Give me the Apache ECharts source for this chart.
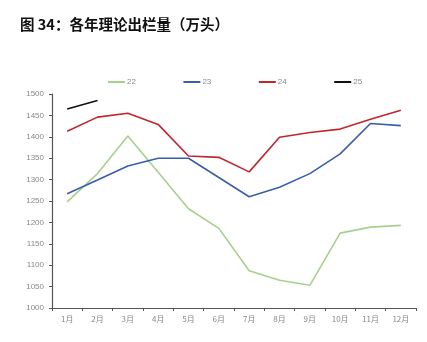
<!DOCTYPE html>
<html><head><meta charset="utf-8">
<script src="https://cdn.jsdelivr.net/npm/echarts@6/dist/echarts.min.js"></script>
<style>html,body{margin:0;padding:0;background:#fff}#c{width:427px;height:342px}</style>
</head><body><div id="c"></div>
<script>
const categories = ['1月','2月','3月','4月','5月','6月','7月','8月','9月','10月','11月','12月'];
const s22 = [1248,1314,1402,1317,1232,1186,1087,1065,1053,1175,1189,1193];
const s23 = [1267,1299,1332,1350,1350,1305,1260,1282,1314,1360,1431,1426];
const s24 = [1413,1446,1455,1429,1355,1352,1318,1399,1410,1418,1441,1462];
const s25 = [1465,1485];
const seriesNames = ['22','23','24','25'];
const yTicks = {min:1000, max:1500, interval:50};

const chart = echarts.init(document.getElementById('c'), null, {renderer:'canvas'});
const colors = ['#a8d08d','#3a5ea8','#c0262d','#111111'];
function mk(name, data, i){
  return {name, type:'line', data, symbol:'none', smooth:false,
    lineStyle:{width:1.6, color:colors[i]}, itemStyle:{color:colors[i]}};
}
chart.setOption({
  animation:false,
  title:{text:'图 34：各年理论出栏量（万头）', left:15, top:12,
    textStyle:{fontSize:14.5, fontWeight:'bold', color:'#111', fontFamily:'"Noto Sans CJK SC", sans-serif'}},
  legend:{top:73, left:103, itemGap:47.5, itemWidth:17, itemHeight:2, icon:'rect',
    data:seriesNames,
    textStyle:{fontSize:8, color:'#888', fontFamily:'"Liberation Sans", sans-serif', padding:[0,0,0,-3]}},
  grid:{left:52, right:11, top:94, bottom:34, containLabel:false},
  xAxis:{type:'category', data:categories, boundaryGap:true,
    axisLine:{lineStyle:{color:'#555', width:1.2}},
    axisTick:{show:true, length:3, lineStyle:{color:'#555'}},
    axisLabel:{fontSize:8, color:'#888', margin:7, fontFamily:'"Noto Sans CJK SC", sans-serif'}},
  yAxis:{type:'value', min:yTicks.min, max:yTicks.max, interval:yTicks.interval,
    axisLine:{show:true, lineStyle:{color:'#555', width:1.2}},
    axisTick:{show:true, length:3, lineStyle:{color:'#555'}},
    splitLine:{show:false},
    axisLabel:{fontSize:8, color:'#888', margin:8, formatter:v=>String(v), fontFamily:'"Liberation Sans", sans-serif'}},
  series:[mk('22',s22,0), mk('23',s23,1), mk('24',s24,2), mk('25',s25,3)]
});
</script></body></html>
